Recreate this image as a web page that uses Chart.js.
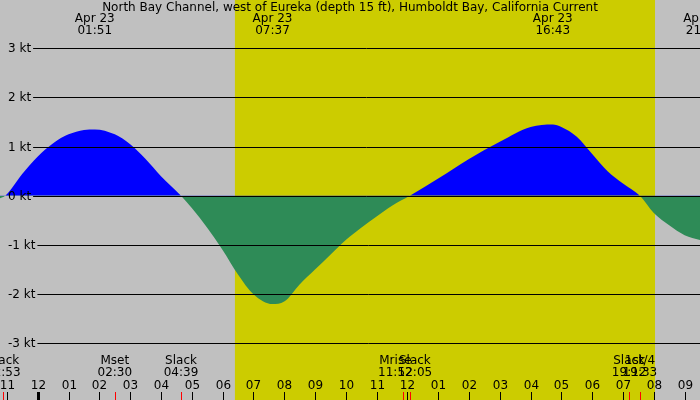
<!DOCTYPE html>
<html><head><meta charset="utf-8">
<script src="https://cdn.jsdelivr.net/npm/chart.js@4"></script>
<style>html,body{margin:0;padding:0;background:#c0c0c0}#w{width:700px;height:400px}</style>
</head><body><div id="w"><canvas id="c"></canvas></div>
<script>
const hours=[-1.227,-1.06,-0.5,0,0.5,1,1.5,1.85,2.5,3,3.5,4,4.65,5,5.5,6,6.5,7,7.62,8,8.5,9,9.5,10,10.5,11,11.5,12.08,13,14,15,16,16.72,17,17.5,18,18.5,19,19.55,20,20.5,21,21.5];
const knots=[-0.05,0,0.45,0.8,1.07,1.25,1.34,1.35,1.25,1.05,0.75,0.4,0,-0.25,-0.65,-1.1,-1.6,-2.0,-2.2,-2.15,-1.8,-1.5,-1.2,-0.9,-0.65,-0.42,-0.2,0,0.35,0.75,1.1,1.4,1.45,1.4,1.2,0.85,0.5,0.25,0,-0.35,-0.6,-0.8,-0.9];
const yTicks=[3,2,1,0,-1,-2,-3];
const hourLabels=['11','12','01','02','03','04','05','06','07','08','09','10','11','12','01','02','03','04','05','06','07','08','09'];
const daylight=[6.40,20.04];
const topLabels=[[1.85,'Apr 23','01:51'],[7.62,'Apr 23','07:37'],[16.72,'Apr 23','16:43'],[21.6,'Apr 23','21:38']];
const bottomLabels=[[-1.12,'Slack','22:53'],[2.5,'Mset','02:30'],[4.65,'Slack','04:39'],[11.87,'Mrise','11:52'],[12.08,'Slack','12:05'],[19.2,'Slack','19:12'],[19.55,'1st/4','19:33']];
const redMarks=[-1.12,2.5,4.65,11.87,12.08,19.2,19.55];
const title='North Bay Channel, west of Eureka (depth 15 ft), Humboldt Bay, California Current';

const bg={id:'bg',beforeDraw(ch){const c=ch.ctx,x=ch.scales.x;c.save();c.fillStyle='#c0c0c0';c.fillRect(0,0,700,400);
c.fillStyle='#cccc00';c.fillRect(x.getPixelForValue(daylight[0]),0,x.getPixelForValue(daylight[1])-x.getPixelForValue(daylight[0]),400);c.restore();},
afterDraw(ch){const c=ch.ctx,x=ch.scales.x,y=ch.scales.y;c.save();c.font='12px "DejaVu Sans"';c.fillStyle='#000';c.textBaseline='middle';
yTicks.forEach(v=>{const py=Math.round(y.getPixelForValue(v))+0.5;const t=v+' kt';c.textAlign='left';const w=c.measureText(t).width;c.fillText(t,8,py);
c.strokeStyle='#000';c.lineWidth=1;c.beginPath();c.moveTo(10+w,py);c.lineTo(700,py);c.stroke();});
c.textAlign='center';c.fillText(title,350,8);
topLabels.forEach(([h,a,b])=>{const px=x.getPixelForValue(h);c.fillText(a,px,19);c.fillText(b,px,31);});
bottomLabels.forEach(([h,a,b])=>{const px=x.getPixelForValue(h);let dx=0;if(a==='Mrise')dx=-8;if(a==='Slack'&&h>12&&h<13)dx=5;c.fillText(a,px+dx,361);c.fillText(b,px+dx,373);});
for(let i=0;i<hourLabels.length;i++){const px=Math.round(x.getPixelForValue(i-1))+0.5;c.fillText(hourLabels[i],px,386);c.beginPath();c.moveTo(px,392);c.lineTo(px,400);c.stroke();}
c.fillRect(Math.round(x.getPixelForValue(0))-1,392,3,8);
c.strokeStyle='#ff0000';redMarks.forEach(h=>{const px=Math.round(x.getPixelForValue(h))+0.5;c.beginPath();c.moveTo(px,392);c.lineTo(px,400);c.stroke();});
c.restore();}};

new Chart(document.getElementById('c'),{type:'line',
data:{datasets:[{data:hours.map((h,i)=>({x:h,y:knots[i]})),borderWidth:0,pointRadius:0,tension:0.4,cubicInterpolationMode:'monotone',
fill:{target:'origin',above:'#0000ff',below:'#2e8b57'}}]},
options:{responsive:true,maintainAspectRatio:false,animation:false,layout:{padding:0},
plugins:{legend:{display:false},tooltip:{enabled:false}},
scales:{x:{type:'linear',min:-1.227,max:21.5,display:false},y:{min:-4.15,max:3.98,display:false}}},
plugins:[bg]});
</script></body></html>
